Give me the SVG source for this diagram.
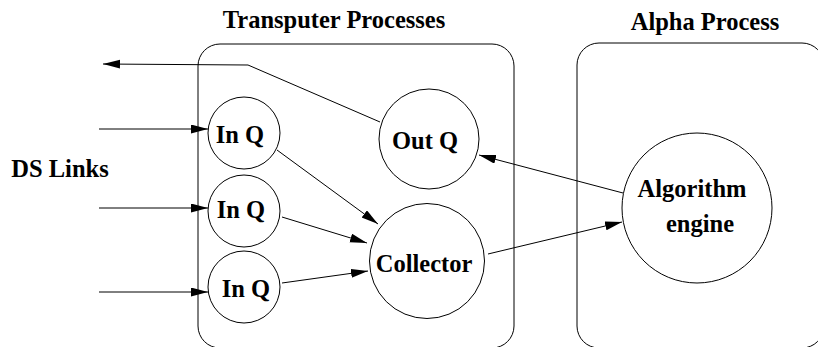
<svg xmlns="http://www.w3.org/2000/svg" width="818" height="347" viewBox="0 0 818 347">
<style>
  .box { fill: none; stroke: #000; stroke-width: 1; }
  .node { fill: #fff; stroke: #000; stroke-width: 1; }
  .lbl { font-family: "Liberation Serif", "Times New Roman", serif; font-weight: bold; font-size: 24.5px; fill: #000; }
  .conn { fill: none; stroke: #000; stroke-width: 1; }
</style>
<defs>
  <marker id="ah" markerUnits="userSpaceOnUse" markerWidth="18" markerHeight="10" refX="17" refY="4.5" orient="auto">
    <path d="M0,0 L17,4.5 L0,9 z" fill="#000"/>
  </marker>
</defs>
<rect width="818" height="347" fill="#fff"/>
<g id="transputer-box">
  <rect class="box" x="198" y="44" width="316" height="304" rx="22" ry="22"/>
  <text class="lbl" x="334" y="28" text-anchor="middle">Transputer Processes</text>
</g>
<g id="alpha-box">
  <rect class="box" x="577" y="43" width="247" height="305" rx="22" ry="22"/>
  <text class="lbl" x="705" y="30" text-anchor="middle">Alpha Process</text>
</g>
<g id="ds-links">
  <text class="lbl" x="60" y="177" text-anchor="middle">DS Links</text>
</g>
<g id="inq1">
  <circle class="node" cx="244" cy="133" r="36"/>
  <text class="lbl" x="240" y="143" text-anchor="middle">In Q</text>
</g>
<g id="inq2">
  <circle class="node" cx="244" cy="211" r="36"/>
  <text class="lbl" x="241" y="218" text-anchor="middle">In Q</text>
</g>
<g id="inq3">
  <circle class="node" cx="244" cy="287" r="36"/>
  <text class="lbl" x="246" y="297" text-anchor="middle">In Q</text>
</g>
<g id="outq">
  <circle class="node" cx="429" cy="139" r="50"/>
  <text class="lbl" x="425" y="149" text-anchor="middle">Out Q</text>
</g>
<g id="collector">
  <circle class="node" cx="427" cy="261" r="57.5"/>
  <text class="lbl" x="424" y="272" text-anchor="middle">Collector</text>
</g>
<g id="algorithm">
  <circle class="node" cx="697" cy="208" r="75"/>
  <text class="lbl" x="692" y="197" text-anchor="middle">Algorithm</text>
  <text class="lbl" x="700" y="232" text-anchor="middle">engine</text>
</g>
<g id="connectors">
  <line class="conn" x1="99" y1="129" x2="208" y2="129" marker-end="url(#ah)"/>
  <line class="conn" x1="99" y1="208" x2="208" y2="208" marker-end="url(#ah)"/>
  <line class="conn" x1="99" y1="292" x2="208" y2="292" marker-end="url(#ah)"/>
  <polyline class="conn" points="380,122 248,65 103,64" marker-end="url(#ah)"/>
  <line class="conn" x1="277" y1="150" x2="378" y2="224" marker-end="url(#ah)"/>
  <line class="conn" x1="282" y1="217" x2="367" y2="243" marker-end="url(#ah)"/>
  <line class="conn" x1="282" y1="283" x2="368" y2="271" marker-end="url(#ah)"/>
  <line class="conn" x1="623" y1="193" x2="479" y2="155" marker-end="url(#ah)"/>
  <line class="conn" x1="488" y1="254" x2="622" y2="222" marker-end="url(#ah)"/>
</g>
</svg>
